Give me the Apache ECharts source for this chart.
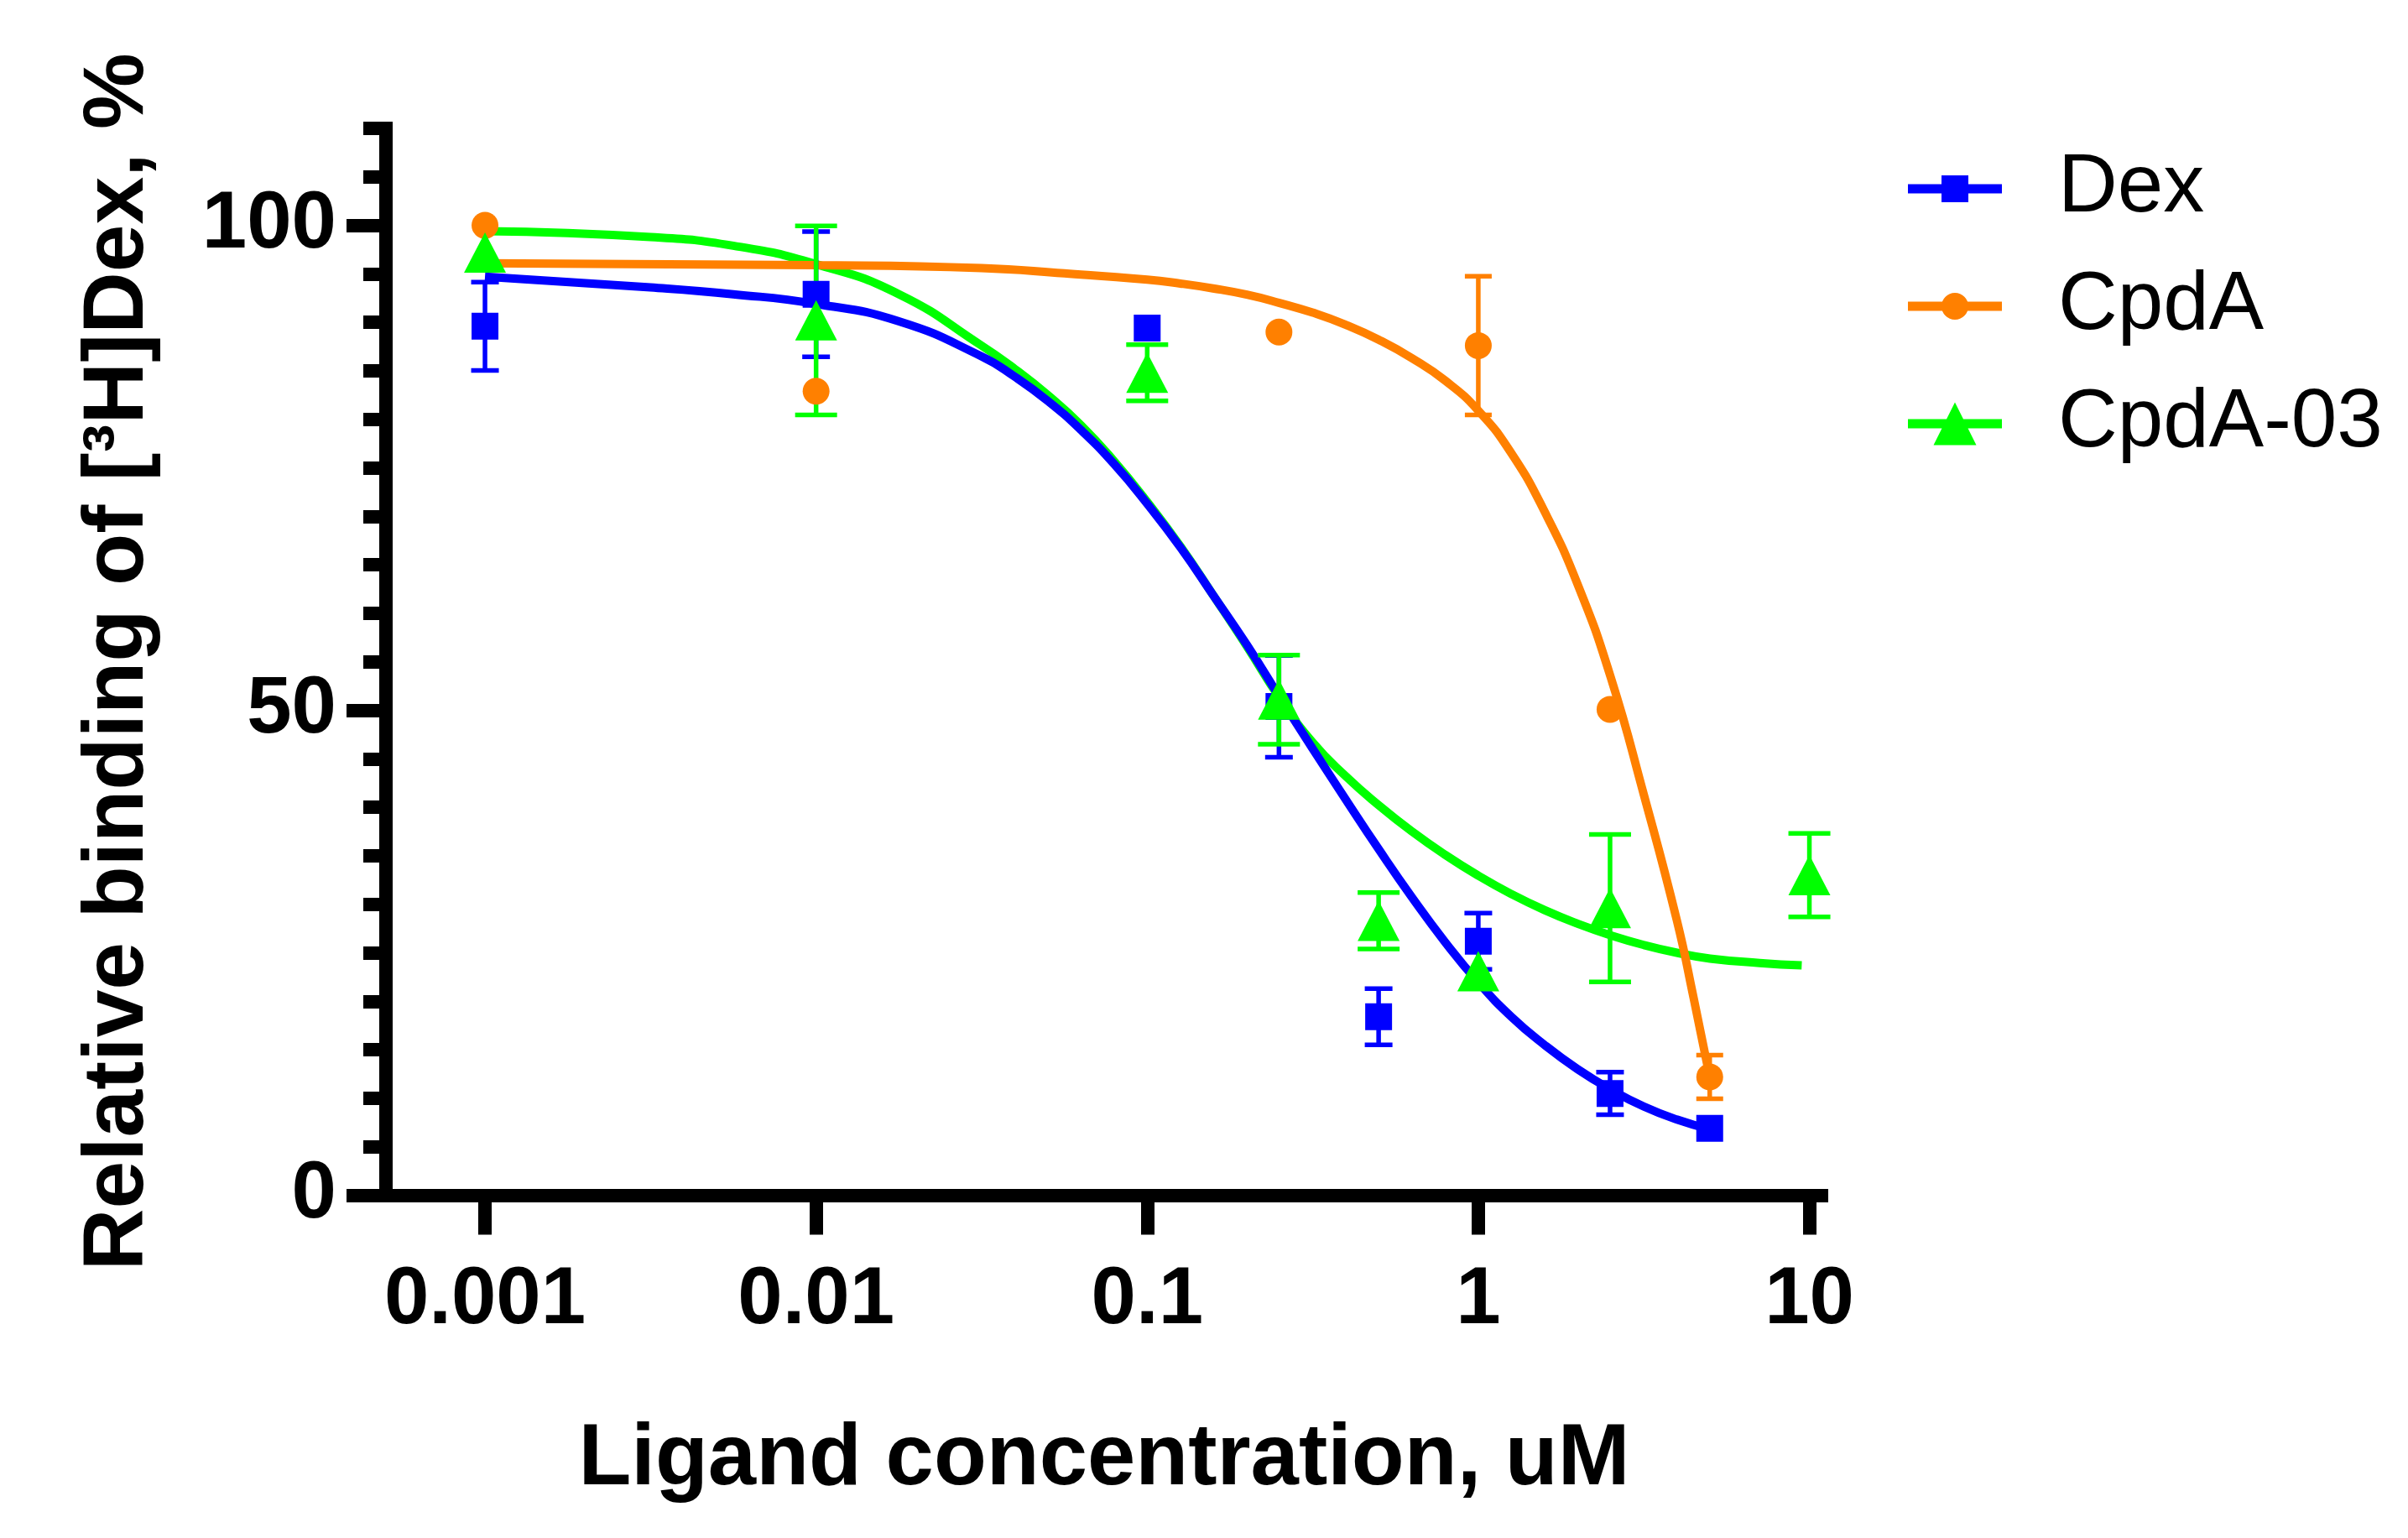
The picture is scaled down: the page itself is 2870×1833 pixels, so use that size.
<!DOCTYPE html>
<html>
<head>
<meta charset="utf-8">
<style>
  html, body { margin: 0; padding: 0; background: #ffffff; }
  #chart { width: 2870px; height: 1833px; }
</style>
<script src="https://cdn.jsdelivr.net/npm/echarts@6/dist/echarts.min.js"></script>
</head>
<body>
<div id="chart"></div>
<script>
// ---------- data ----------
const xTickValues = [0.001, 0.01, 0.1, 1, 10];
const xTickLabels = ['0.001', '0.01', '0.1', '1', '10'];
const yMajorTicks = [0, 50, 100];
const seriesNames = ['Dex', 'CpdA', 'CpdA-03'];

// measured points (mean and SEM)
const dexConc = [0.001, 0.01, 0.1, 0.25, 0.5, 1, 2.5, 5];
const dexMean = [89.6, 92.9, 89.4, 50.4, 18.4, 26.2, 10.5, 6.9];
const dexErr  = [4.55, 6.45, 0, 5.25, 2.9, 2.9, 2.2, 0];

const cpdaConc = [0.001, 0.01, 0.25, 1, 2.5, 5];
const cpdaMean = [100.0, 82.9, 89.0, 87.6, 50.1, 12.2];
const cpdaErr  = [0, 0, 0, 7.15, 0, 2.25];

const cpda03Conc = [0.001, 0.01, 0.1, 0.25, 0.5, 1, 2.5, 10];
const cpda03Mean = [97.2, 90.2, 84.8, 51.1, 28.3, 23.1, 29.6, 33.0];
const cpda03Err  = [0, 9.75, 2.9, 4.6, 2.9, 0, 7.6, 4.3];

// fitted curves
const dexFitX = [0.001, 0.00316, 0.00562, 0.01, 0.0178, 0.0316, 0.0398, 0.0501, 0.0631, 0.0794, 0.1, 0.126, 0.158, 0.2, 0.251, 0.316, 0.398, 0.501, 0.631, 0.794, 1, 1.259, 1.585, 1.995, 2.512, 3.162, 3.981, 5];
const dexFitY = [94.7, 93.6, 92.9, 91.9, 90.1, 86.5, 84.4, 81.9, 78.9, 75.4, 71.3, 66.8, 61.9, 56.75, 51.4, 46.05, 40.8, 35.65, 30.7, 26.1, 21.95, 18.4, 15.5, 13.0, 10.9, 9.15, 7.8, 6.8];

const cpdaFitX = [0.001, 0.01, 0.0316, 0.0562, 0.1, 0.126, 0.158, 0.2, 0.251, 0.316, 0.398, 0.501, 0.631, 0.794, 1, 1.259, 1.585, 1.995, 2.512, 3.162, 3.981, 4.467, 5];
const cpdaFitY = [96.1, 95.9, 95.6, 95.05, 94.4, 94.0, 93.5, 92.85, 92.0, 91.0, 89.75, 88.2, 86.3, 84.0, 80.9, 76.5, 70.5, 63.0, 53.4, 41.3, 28.3, 20.4, 12.2];

const cpda03FitX = [0.001, 0.00316, 0.00562, 0.01, 0.0178, 0.0316, 0.0398, 0.0501, 0.0631, 0.0794, 0.1, 0.126, 0.158, 0.2, 0.251, 0.316, 0.398, 0.501, 0.631, 0.794, 1, 1.259, 1.585, 1.995, 2.512, 3.162, 3.981, 5.012, 7.079, 9.48];
const cpda03FitY = [99.4, 98.8, 97.9, 96.0, 92.9, 87.6, 85.2, 82.5, 79.4, 75.7, 71.5, 66.9, 61.9, 56.6, 51.3, 46.7, 43.2, 40.2, 37.5, 35.1, 32.95, 31.05, 29.4, 28.0, 26.8, 25.8, 25.0, 24.4, 23.95, 23.7];

// ---------- helpers ----------
const colors = { 'Dex': '#0000ff', 'CpdA': '#ff8000', 'CpdA-03': '#00ff00' };
const FONT = 'Liberation Sans, Arial, sans-serif';

function pairs(xs, ys) { return xs.map((x, i) => [x, ys[i]]); }
function errData(xs, ms, es) {
  const out = [];
  xs.forEach((x, i) => { if (es[i] > 0) out.push([x, ms[i] - es[i], ms[i] + es[i]]); });
  return out;
}
function errRenderer(capW, color) {
  return function (params, api) {
    const x = api.value(0), lo = api.value(1), hi = api.value(2);
    const top = api.coord([x, hi]);
    const bot = api.coord([x, lo]);
    const style = { stroke: color, lineWidth: 5.5, fill: null };
    return {
      type: 'group',
      children: [
        { type: 'line', shape: { x1: top[0], y1: top[1], x2: bot[0], y2: bot[1] }, style: style },
        { type: 'line', shape: { x1: top[0] - capW / 2, y1: top[1], x2: top[0] + capW / 2, y2: top[1] }, style: style },
        { type: 'line', shape: { x1: bot[0] - capW / 2, y1: bot[1], x2: bot[0] + capW / 2, y2: bot[1] }, style: style }
      ]
    };
  };
}
function curve(name, xs, ys) {
  return {
    name: name, type: 'line', data: pairs(xs, ys),
    showSymbol: false, symbol: 'none', smooth: 0.5,
    lineStyle: { color: colors[name], width: 10 },
    itemStyle: { color: colors[name] },
    silent: true, z: 2
  };
}
function errSeries(name, xs, ms, es, capW) {
  return {
    name: name, type: 'custom', data: errData(xs, ms, es),
    encode: { x: 0, y: [1, 2] },
    renderItem: errRenderer(capW, colors[name]),
    itemStyle: { color: colors[name] }, silent: true, z: 3
  };
}
function pts(name, xs, ms, symbol, size) {
  return {
    name: name, type: 'scatter', data: pairs(xs, ms),
    symbol: symbol, symbolSize: size,
    itemStyle: { color: colors[name], opacity: 1 }, silent: true, z: 3
  };
}

const legendIcons = {
  'Dex': 'path://M0,10.5L112,10.5L112,21.5L0,21.5Z M40,0L72,0L72,32L40,32Z',
  'CpdA': 'path://M0,10.5L112,10.5L112,21.5L0,21.5Z M40,16A16 16 0 1 1 72,16A16 16 0 1 1 40,16Z',
  'CpdA-03': 'path://M0,20L112,20L112,31L0,31Z M56,0L81.5,51L30.5,51Z'
};

// ---------- chart ----------
const chart = echarts.init(document.getElementById('chart'), null, { renderer: 'canvas' });
const axisBlack = '#000000';

chart.setOption({
  backgroundColor: '#ffffff',
  animation: false,
  grid: { left: 421, top: 153, width: 1750, height: 1271.5, containLabel: false },
  legend: {
    orient: 'vertical', left: 2274, top: 176, padding: 0,
    itemWidth: 112, itemHeight: 52, itemGap: 42,
    selectedMode: false,
    itemStyle: { borderWidth: 0 },
    data: seriesNames.map(n => ({ name: n, icon: legendIcons[n] })),
    textStyle: { fontFamily: FONT, fontSize: 98, color: '#000', padding: [0, 0, 0, 62] }
  },
  xAxis: {
    type: 'log', logBase: 10, min: 0.0004, max: 10.88,
    name: 'Ligand concentration, uM', nameLocation: 'middle', nameGap: 265,
    nameTextStyle: { fontFamily: FONT, fontWeight: 'bold', fontSize: 103, color: '#000', padding: [0, 0, 0, 40] },
    axisLine: { show: true, lineStyle: { color: axisBlack, width: 16, cap: 'square' } },
    axisTick: { show: true, customValues: xTickValues, length: 47, lineStyle: { color: axisBlack, width: 16 } },
    axisLabel: {
      show: true, customValues: xTickValues, margin: 78,
      fontFamily: FONT, fontWeight: 'bold', fontSize: 96, color: '#000',
      formatter: function (v) {
        let best = 0;
        xTickValues.forEach((t, i) => { if (Math.abs(Math.log10(t) - Math.log10(v)) < Math.abs(Math.log10(xTickValues[best]) - Math.log10(v))) best = i; });
        return xTickLabels[best];
      }
    },
    splitLine: { show: false }, minorTick: { show: false }
  },
  yAxis: [
    {
      type: 'value', position: 'left', min: 0, max: 110, interval: 5, offset: -39,
      name: 'Relative binding of [\u00B3H]Dex, %', nameLocation: 'middle', nameRotate: 90, nameGap: 267,
      nameTextStyle: { fontFamily: FONT, fontWeight: 'bold', fontSize: 102, color: '#000' },
      axisLine: { show: true, lineStyle: { color: axisBlack, width: 16, cap: 'square' } },
      axisTick: { show: true, length: 27, lineStyle: { color: axisBlack, width: 16 } },
      axisLabel: { show: false },
      splitLine: { show: false }
    },
    {
      type: 'value', position: 'left', min: 0, max: 110, offset: -39,
      axisLine: { show: false },
      axisTick: { show: true, customValues: yMajorTicks, length: 47, lineStyle: { color: axisBlack, width: 16 } },
      axisLabel: {
        show: true, customValues: yMajorTicks, margin: 59,
        fontFamily: FONT, fontWeight: 'bold', fontSize: 96, color: '#000'
      },
      splitLine: { show: false }
    }
  ],
  series: [
    curve('CpdA-03', cpda03FitX, cpda03FitY),
    curve('CpdA', cpdaFitX, cpdaFitY),
    curve('Dex', dexFitX, dexFitY),
    errSeries('Dex', dexConc, dexMean, dexErr, 33),
    pts('Dex', dexConc, dexMean, 'rect', 32),
    errSeries('CpdA', cpdaConc, cpdaMean, cpdaErr, 32),
    pts('CpdA', cpdaConc, cpdaMean, 'circle', 32),
    errSeries('CpdA-03', cpda03Conc, cpda03Mean, cpda03Err, 50),
    pts('CpdA-03', cpda03Conc, cpda03Mean, 'triangle', [50, 48])
  ]
});
</script>
</body>
</html>
